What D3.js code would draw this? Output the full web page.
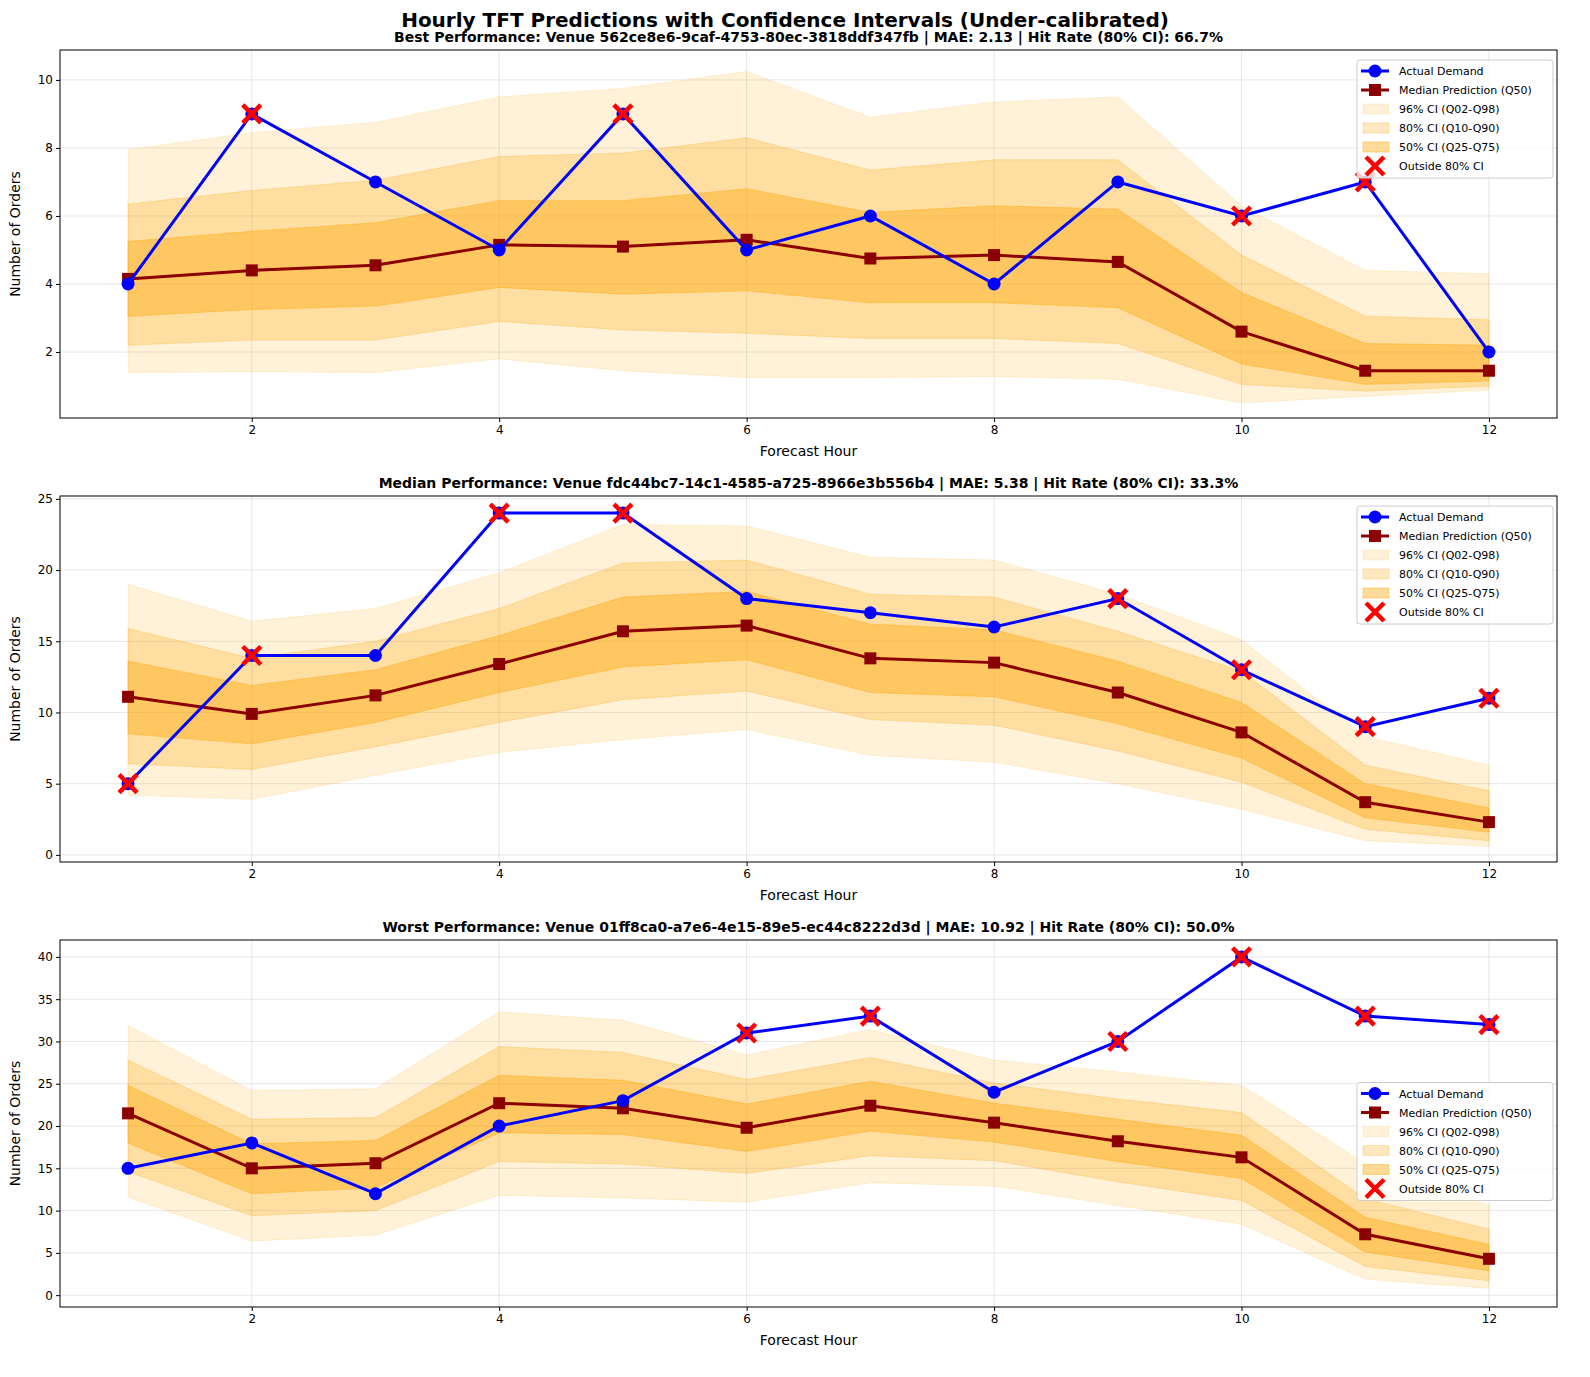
<!DOCTYPE html>
<html><head><meta charset="utf-8">
<script src="https://cdn.jsdelivr.net/npm/d3@7"></script>
<style>body{margin:0;background:#fff;font-family:"DejaVu Sans",sans-serif}</style>
</head><body><svg id="c" width="1590" height="1377"></svg>
<script>
const hours=[1,2,3,4,5,6,7,8,9,10,11,12];
const titles=["Best Performance: Venue 562ce8e6-9caf-4753-80ec-3818ddf347fb | MAE: 2.13 | Hit Rate (80% CI): 66.7%",
"Median Performance: Venue fdc44bc7-14c1-4585-a725-8966e3b556b4 | MAE: 5.38 | Hit Rate (80% CI): 33.3%",
"Worst Performance: Venue 01ff8ca0-a7e6-4e15-89e5-ec44c8222d3d | MAE: 10.92 | Hit Rate (80% CI): 50.0%"];
const actual1=[4,9,7,5,9,5,6,4,7,6,7,2];
const q50_1=[4.15,4.4,4.55,5.15,5.1,5.3,4.75,4.85,4.65,2.6,1.45,1.45];
const q02_1=[1.4,1.42,1.4,1.8,1.45,1.25,1.25,1.28,1.2,0.5,0.7,0.88];
const q98_1=[7.95,8.45,8.75,9.5,9.75,10.25,8.9,9.35,9.5,6.3,4.4,4.3];
const q10_1=[2.2,2.35,2.35,2.9,2.65,2.55,2.4,2.4,2.25,1.05,0.85,1.0];
const q90_1=[6.35,6.75,7.05,7.75,7.85,8.3,7.35,7.65,7.65,4.85,3.05,2.95];
const q25_1=[3.05,3.25,3.35,3.9,3.7,3.8,3.45,3.45,3.3,1.65,1.05,1.15];
const q75_1=[5.25,5.55,5.8,6.45,6.45,6.8,6.1,6.3,6.2,3.75,2.25,2.2];
const actual2=[5,14,14,24,24,18,17,16,18,13,9,11];
const q50_2=[11.1,9.9,11.2,13.4,15.7,16.1,13.8,13.5,11.4,8.6,3.7,2.3];
const q02_2=[4.2,3.9,5.6,7.2,8.1,8.8,7.0,6.5,5.0,3.2,1.0,0.6];
const q98_2=[19,16.4,17.3,19.8,23.2,23.1,20.9,20.7,18.3,15.1,8.3,6.3];
const q10_2=[6.4,6.0,7.6,9.3,10.9,11.5,9.5,9.1,7.3,5.1,1.8,1.0];
const q90_2=[15.9,13.8,15.0,17.3,20.5,20.7,18.3,18.1,15.7,12.9,6.3,4.5];
const q25_2=[8.5,7.8,9.3,11.4,13.2,13.7,11.4,11.1,9.2,6.8,2.6,1.6];
const q75_2=[13.6,11.9,13.0,15.4,18.1,18.5,16.2,15.8,13.6,10.7,5.0,3.3];
const actual3=[15,18,12,20,23,31,33,24,30,40,33,32];
const q50_3=[21.5,15,15.6,22.7,22.1,19.8,22.4,20.4,18.2,16.3,7.2,4.3];
const q02_3=[11.6,6.4,7.1,11.8,11.5,11.0,13.3,12.9,10.6,8.4,1.9,0.8];
const q98_3=[31.9,24.2,24.4,33.5,32.5,28.4,31.4,27.8,26.4,24.8,15.6,10.6];
const q10_3=[14.6,9.4,10.0,15.8,15.5,14.4,16.5,15.9,13.4,11.2,3.4,1.7];
const q90_3=[27.8,20.8,21.0,29.4,28.7,25.5,28.1,25.1,23.2,21.6,11.4,7.8];
const q25_3=[18.0,12.0,12.7,19.2,19.0,17.0,19.4,18.1,15.8,13.8,5.1,2.9];
const q75_3=[24.8,17.9,18.3,26.0,25.4,22.6,25.3,22.7,20.8,18.9,9.2,6.0];
const yTicks1=[2,4,6,8,10], yTicks2=[0,5,10,15,20,25], yTicks3=[0,5,10,15,20,25,30,35,40];
const xTicks=[2,4,6,8,10,12];

const panels=[
 {top:50,bot:418,ydom:[0.06,10.88],yt:yTicks1,a:actual1,q50:q50_1,q02:q02_1,q98:q98_1,q10:q10_1,q90:q90_1,q25:q25_1,q75:q75_1,leg:"top"},
 {top:496,bot:862,ydom:[-0.5,25.2],yt:yTicks2,a:actual2,q50:q50_2,q02:q02_2,q98:q98_2,q10:q10_2,q90:q90_2,q25:q25_2,q75:q75_2,leg:"top"},
 {top:940,bot:1307,ydom:[-1.4,42],yt:yTicks3,a:actual3,q50:q50_3,q02:q02_3,q98:q98_3,q10:q10_3,q90:q90_3,q25:q25_3,q75:q75_3,leg:"mid"}];
const svg=d3.select("#c");
const L=60,R=1557;
svg.append("text").attr("x",785).attr("y",27).attr("text-anchor","middle").attr("font-size",20).attr("font-weight","bold").text("Hourly TFT Predictions with Confidence Intervals (Under-calibrated)");
const x=d3.scaleLinear().domain([0.45,12.55]).range([L,R]);
panels.forEach((p,pi)=>{
  const y=d3.scaleLinear().domain(p.ydom).range([p.bot,p.top]);
  const g=svg.append("g");
  g.append("text").attr("x",(L+R)/2).attr("y",p.top-8).attr("text-anchor","middle").attr("font-size",14).attr("font-weight","bold").text(titles[pi]);
  // grid
  g.selectAll(".gx").data(xTicks).enter().append("line").attr("x1",d=>x(d)).attr("x2",d=>x(d)).attr("y1",p.top).attr("y2",p.bot).attr("stroke","#b0b0b0").attr("stroke-opacity",0.3);
  g.selectAll(".gy").data(p.yt).enter().append("line").attr("y1",d=>y(d)).attr("y2",d=>y(d)).attr("x1",L).attr("x2",R).attr("stroke","#b0b0b0").attr("stroke-opacity",0.3);
  const band=(lo,hi,op)=>{
    const ar=d3.area().x((d,i)=>x(hours[i])).y0((d,i)=>y(lo[i])).y1((d,i)=>y(hi[i]));
    g.append("path").attr("d",ar(hours)).attr("fill","orange").attr("fill-opacity",op).attr("stroke","orange").attr("stroke-opacity",op).attr("stroke-width",1);
  };
  band(p.q02,p.q98,0.15);band(p.q10,p.q90,0.25);band(p.q25,p.q75,0.4);
  const ln=d3.line().x((d,i)=>x(hours[i])).y(d=>y(d));
  g.append("path").attr("d",ln(p.q50)).attr("fill","none").attr("stroke","darkred").attr("stroke-width",3);
  g.selectAll(".sq").data(p.q50).enter().append("rect").attr("x",(d,i)=>x(hours[i])-6).attr("y",d=>y(d)-6).attr("width",12).attr("height",12).attr("fill","darkred");
  g.append("path").attr("d",ln(p.a)).attr("fill","none").attr("stroke","blue").attr("stroke-width",3);
  g.selectAll(".ci").data(p.a).enter().append("circle").attr("cx",(d,i)=>x(hours[i])).attr("cy",d=>y(d)).attr("r",6.5).attr("fill","blue");
  const out=hours.map((h,i)=>({h,v:p.a[i],o:p.a[i]<p.q10[i]||p.a[i]>p.q90[i]})).filter(d=>d.o);
  const X=(gg,cx,cy,s)=>{gg.append("path").attr("d",`M${cx-s},${cy-s}L${cx+s},${cy+s}M${cx-s},${cy+s}L${cx+s},${cy-s}`).attr("stroke","red").attr("stroke-width",4.5).attr("stroke-linecap","butt");};
  out.forEach(d=>X(g,x(d.h),y(d.v),9));
  // frame
  g.append("rect").attr("x",L).attr("y",p.top).attr("width",R-L).attr("height",p.bot-p.top).attr("fill","none").attr("stroke","#000").attr("stroke-width",1);
  const ax=g.append("g").attr("transform",`translate(0,${p.bot})`).call(d3.axisBottom(x).tickValues(xTicks).tickSize(4).tickFormat(d3.format("d")));
  const ay=g.append("g").attr("transform",`translate(${L},0)`).call(d3.axisLeft(y).tickValues(p.yt).tickSize(4).tickFormat(d3.format("d")));
  [ax,ay].forEach(a=>{a.select(".domain").remove();a.selectAll("text").attr("font-size",12).attr("font-family","DejaVu Sans").attr("fill","#000");});
  g.append("text").attr("x",(L+R)/2).attr("y",p.bot+38).attr("text-anchor","middle").attr("font-size",14).text("Forecast Hour");
  g.append("text").attr("transform",`translate(20,${(p.top+p.bot)/2}) rotate(-90)`).attr("text-anchor","middle").attr("font-size",14).text("Number of Orders");
  // legend
  const lw=196,lh=118,lx=R-lw-4;
  const ly=p.leg==="top"?p.top+10:(p.top+p.bot)/2-lh/2+18;
  const lg=g.append("g").attr("transform",`translate(${lx},${ly})`);
  lg.append("rect").attr("width",lw).attr("height",lh).attr("rx",3).attr("fill","#fff").attr("fill-opacity",0.8).attr("stroke","#ccc");
  const items=["Actual Demand","Median Prediction (Q50)","96% CI (Q02-Q98)","80% CI (Q10-Q90)","50% CI (Q25-Q75)","Outside 80% CI"];
  items.forEach((t,i)=>{
    const cy=11+i*19;
    if(i===0){lg.append("line").attr("x1",4).attr("x2",32).attr("y1",cy).attr("y2",cy).attr("stroke","blue").attr("stroke-width",3);lg.append("circle").attr("cx",18).attr("cy",cy).attr("r",6.5).attr("fill","blue");}
    if(i===1){lg.append("line").attr("x1",4).attr("x2",32).attr("y1",cy).attr("y2",cy).attr("stroke","darkred").attr("stroke-width",3);lg.append("rect").attr("x",12).attr("y",cy-6).attr("width",12).attr("height",12).attr("fill","darkred");}
    if(i>=2&&i<=4){const op=[0.15,0.25,0.4][i-2];lg.append("rect").attr("x",6).attr("y",cy-5).attr("width",26).attr("height",10).attr("fill","orange").attr("fill-opacity",op).attr("stroke","orange").attr("stroke-opacity",op);}
    if(i===5)X(lg,18,cy,9);
    lg.append("text").attr("x",42).attr("y",cy+4).attr("font-size",11).text(t);
  });
});
</script></body></html>
